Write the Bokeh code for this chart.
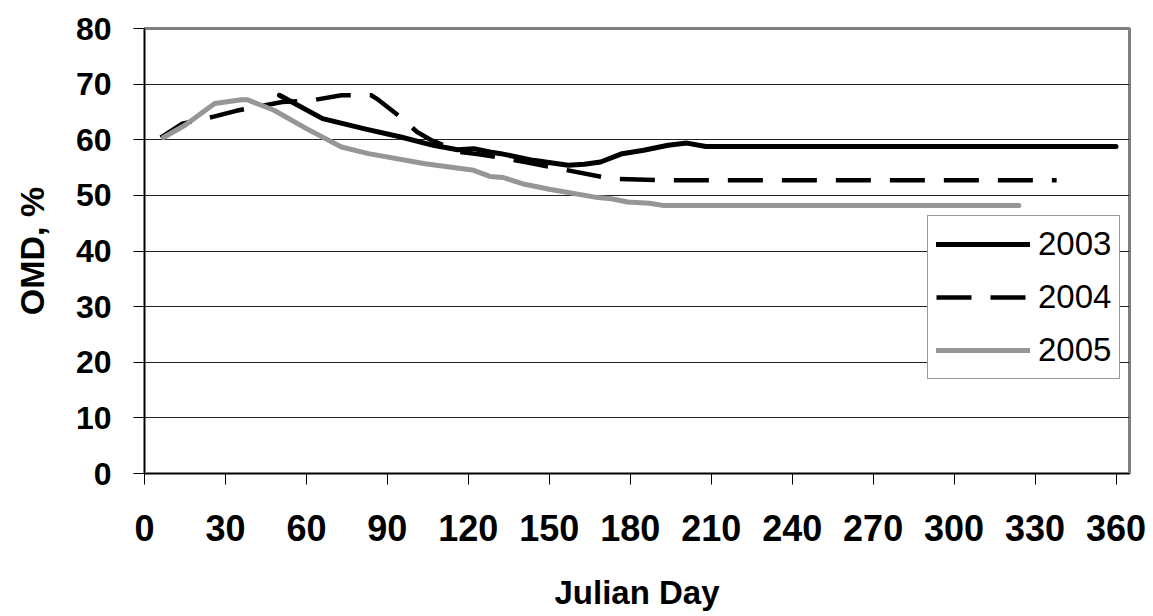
from bokeh.plotting import figure
from bokeh.models import Legend, LegendItem, FixedTicker, Range1d
from bokeh.embed import file_html
from bokeh.resources import INLINE

# ---- data ----
days_2003 = [50, 66, 82, 95, 107, 116, 122, 128, 132, 144, 157, 163, 169, 177, 185, 194, 201, 208, 360]
omd_2003 = [68.0, 63.8, 61.9, 60.5, 59.0, 58.2, 58.4, 57.8, 57.5, 56.3, 55.4, 55.6, 56.0, 57.5, 58.1, 59.0, 59.4, 58.8, 58.8]

days_2004 = [6, 14, 26, 34, 51, 61, 73, 84, 86, 94, 101, 106, 117, 124, 141, 157, 173, 192, 338]
omd_2004 = [60.4, 62.9, 64.2, 65.2, 66.8, 67.0, 68.0, 68.0, 67.4, 64.4, 61.4, 60.0, 57.8, 57.4, 56.0, 54.5, 53.0, 52.7, 52.7]

days_2005 = [7, 15, 26, 36, 38, 48, 60, 73, 83, 104, 122, 128, 133, 140, 150, 168, 173, 179, 187, 192, 324]
omd_2005 = [60.4, 62.6, 66.5, 67.2, 67.2, 65.3, 62.0, 58.7, 57.5, 55.7, 54.5, 53.4, 53.2, 52.1, 51.1, 49.6, 49.4, 48.8, 48.6, 48.2, 48.2]

series_labels = ["2003", "2004", "2005"]
x_ticks = [0, 30, 60, 90, 120, 150, 180, 210, 240, 270, 300, 330, 360]
y_ticks = [0, 10, 20, 30, 40, 50, 60, 70, 80]

FONT = "Liberation Sans"

p = figure(width=1153, height=616, output_backend="svg", toolbar_location=None,
           x_range=Range1d(0, 365), y_range=Range1d(0, 80),
           min_border_left=144, min_border_right=24, min_border_top=28, min_border_bottom=143,
           background_fill_color="white", border_fill_color="white")

p.outline_line_color = "#808080"
p.outline_line_width = 3

# grid
p.xgrid.visible = False
p.ygrid.ticker = FixedTicker(ticks=y_ticks[1:-1])
p.ygrid.grid_line_color = "#222222"
p.ygrid.grid_line_width = 1

# axes
for ax in (p.xaxis[0], p.yaxis[0]):
    ax.axis_line_color = "black"
    ax.axis_line_width = 1
    ax.major_tick_line_color = "black"
    ax.major_tick_in = 0
    ax.major_tick_out = 11
    ax.minor_tick_line_color = None
    ax.major_label_text_font = FONT
    ax.major_label_text_font_style = "bold"
    ax.major_label_text_color = "black"
    ax.axis_label_text_font = FONT
    ax.axis_label_text_font_style = "bold"
    ax.axis_label_text_color = "black"

p.xaxis.ticker = FixedTicker(ticks=x_ticks)
p.xaxis.major_label_text_font_size = "36px"
p.xaxis.major_label_standoff = 30
p.xaxis.axis_label = "Julian Day"
p.xaxis.axis_label_text_font_size = "33px"
p.xaxis.axis_label_standoff = 30

p.yaxis.ticker = FixedTicker(ticks=y_ticks)
p.yaxis.major_label_text_font_size = "32px"
p.yaxis.major_label_standoff = 22
p.yaxis.axis_label = "OMD, %"
p.yaxis.axis_label_text_font_size = "34px"
p.yaxis.axis_label_standoff = 22

r1 = p.line(days_2003, omd_2003, line_color="black", line_width=5, line_join="round", line_cap="round")
r2 = p.line(days_2004, omd_2004, line_color="black", line_width=4.5, line_dash="35 19", line_join="round")
r3 = p.line(days_2005, omd_2005, line_color="#969696", line_width=5, line_join="round", line_cap="round")

legend = Legend(items=[LegendItem(label=series_labels[0], renderers=[r1]),
                       LegendItem(label=series_labels[1], renderers=[r2]),
                       LegendItem(label=series_labels[2], renderers=[r3])],
                location=(783, 94), margin=0, padding=8, spacing=13,
                glyph_width=94, glyph_height=40, label_height=40, label_standoff=8,
                label_text_font=FONT, label_text_font_size="33px", label_text_color="black",
                border_line_color="#333333", border_line_width=1,
                background_fill_color="white", background_fill_alpha=1.0)
p.add_layout(legend)

open("out.html", "w").write(file_html(p, INLINE))
